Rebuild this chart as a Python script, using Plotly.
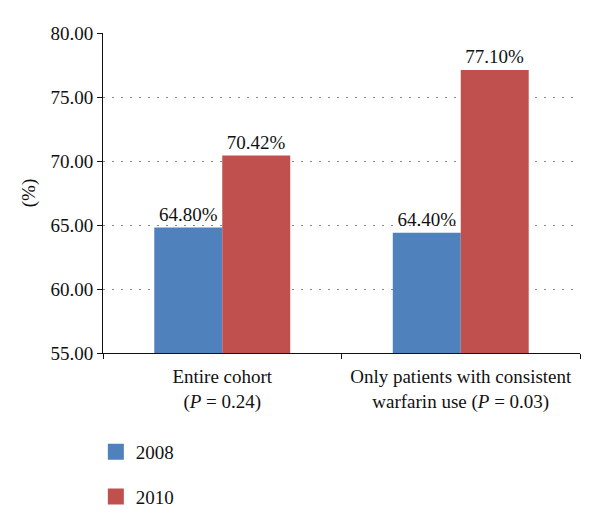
import plotly.graph_objects as go

categories = ["Entire cohort<br>(<i>P</i> = 0.24)",
              "Only patients with consistent<br>warfarin use (<i>P</i> = 0.03)"]
years = ["2008", "2010"]
values_2008 = [64.80, 64.40]
values_2010 = [70.42, 77.10]
colors = {"2008": "#4F81BD", "2010": "#C0504D"}
y_ticks = [55, 60, 65, 70, 75, 80]

FONT = "Liberation Serif"
FS = 19

fig = go.Figure()
for yr, vals in zip(years, [values_2008, values_2010]):
    fig.add_trace(go.Bar(
        x=categories, y=vals, name=yr, showlegend=False,
        marker=dict(color=colors[yr], line=dict(width=0)),
        text=[f"{v:.2f}%" for v in vals], textposition="outside",
        textfont=dict(family=FONT, size=FS, color="#111"),
        cliponaxis=False,
    ))
# legend proxies
for yr in years:
    fig.add_trace(go.Scatter(
        x=[None], y=[None], mode="markers", name=yr, legendgroup=yr,
        marker=dict(symbol="square", size=20, color=colors[yr]),
    ))

fig.update_layout(
    width=600, height=529,
    margin=dict(l=103, r=20, t=33, b=176),
    paper_bgcolor="white", plot_bgcolor="white",
    barmode="group", bargap=0.43, bargroupgap=0,
    font=dict(family=FONT, size=FS, color="#111"),
    showlegend=True,
    legend=dict(x=-0.015, y=-0.25, xanchor="left", yanchor="top",
                traceorder="grouped", tracegroupgap=17,
                font=dict(family=FONT, size=FS, color="#111"),
                bgcolor="rgba(0,0,0,0)"),
    xaxis=dict(showline=True, linecolor="#111", linewidth=1, automargin=False,
               ticks="outside", tickson="boundaries", ticklen=5, tickcolor="#111",
               ticklabelstandoff=6,
               tickfont=dict(family=FONT, size=FS, color="#111"),
               showgrid=False, zeroline=False),
    yaxis=dict(range=[55, 80], tickvals=y_ticks, tickformat=".2f", automargin=False,
               showline=True, linecolor="#111", linewidth=1,
               ticks="outside", ticklen=5, tickcolor="#111",
               showgrid=True, gridcolor="#888", griddash="1.5px,7.5px", gridwidth=1,
               zeroline=False,
               tickfont=dict(family=FONT, size=FS, color="#111"),
               title=dict(text="(%)", font=dict(family=FONT, size=FS, color="#111"),
                          standoff=9)),
)

fig.write_html("out.html", config={"displayModeBar": False},
               post_script="document.body.style.margin='0';")
